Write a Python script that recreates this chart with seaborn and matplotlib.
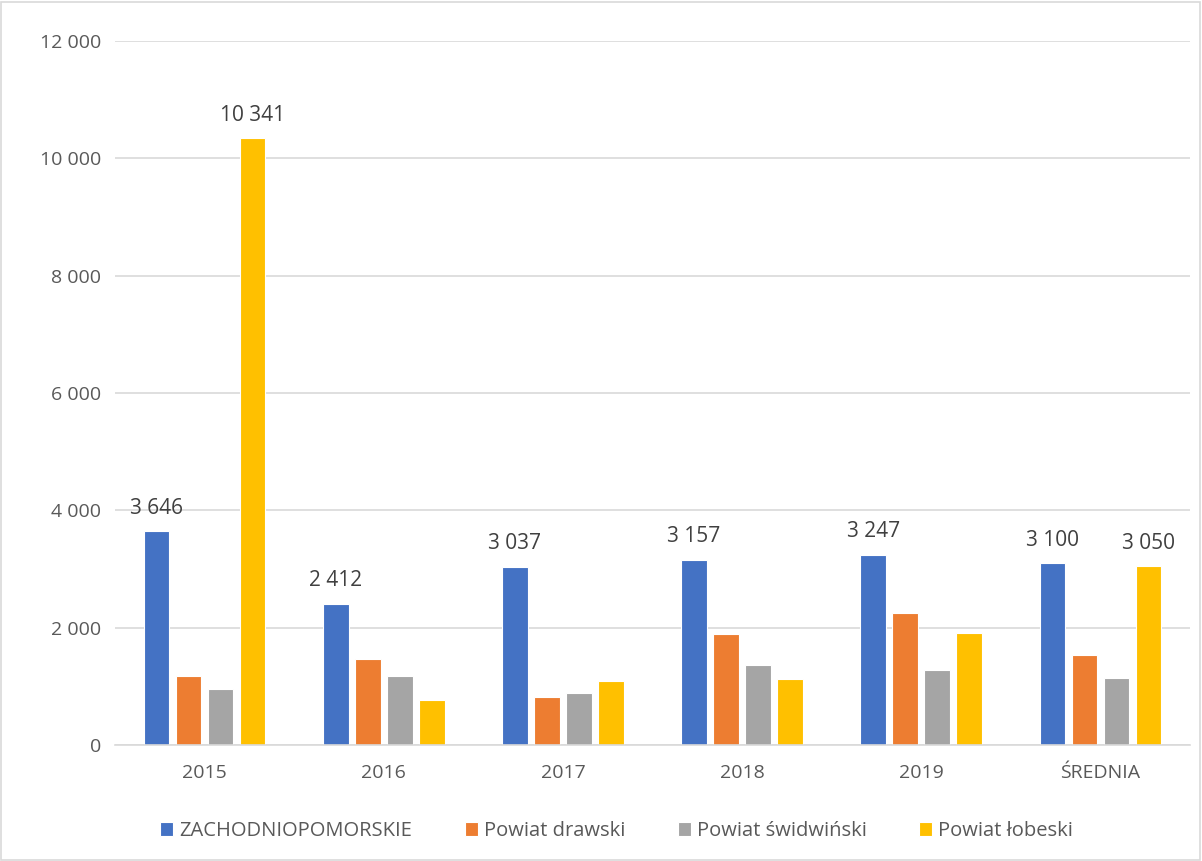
import seaborn as sns
import matplotlib.pyplot as plt
import pandas as pd
from matplotlib.patches import Rectangle
from matplotlib.ticker import FuncFormatter

# Dane
kategorie = ["2015", "2016", "2017", "2018", "2019", "ŚREDNIA"]
serie = ["ZACHODNIOPOMORSKIE", "Powiat drawski", "Powiat świdwiński", "Powiat łobeski"]
zachodniopomorskie = [3646, 2412, 3037, 3157, 3247, 3100]
drawski = [1182, 1460, 823, 1897, 2249, 1528]
swidwinski = [961, 1182, 880, 1369, 1283, 1136]
lobeski = [10341, 761, 1085, 1119, 1903, 3050]
kolory = ["#4472C4", "#ED7D31", "#A5A5A5", "#FFC000"]

df = pd.DataFrame({
    "kategoria": kategorie * 4,
    "seria": [s for s in serie for _ in kategorie],
    "wartosc": zachodniopomorskie + drawski + swidwinski + lobeski,
})

sns.set_style("white")
plt.rcParams["font.family"] = ["Open Sans", "DejaVu Sans"]

def fmt(v):
    return f"{int(round(v)):,}".replace(",", " ")

fig = plt.figure(figsize=(12.02, 8.61), dpi=100)
ax = fig.add_axes([0.0957, 0.1347, 0.8943, 0.8177])

sns.barplot(data=df, x="kategoria", y="wartosc", hue="seria", order=kategorie,
            hue_order=serie, palette=kolory, width=0.715, gap=0.2,
            edgecolor="white", linewidth=0.8, saturation=1, ax=ax, legend=True)

ax.set_ylim(0, 12000)
ax.set_yticks(range(0, 12001, 2000))
ax.yaxis.set_major_formatter(FuncFormatter(lambda v, p: fmt(v)))
ax.grid(axis="y", color="#D9D9D9", linewidth=1.2)
ax.set_axisbelow(True)
for s in ["top", "right", "left"]:
    ax.spines[s].set_visible(False)
ax.spines["bottom"].set_color("#D9D9D9")
ax.spines["bottom"].set_linewidth(1.2)
ax.tick_params(axis="both", length=0, colors="#595959", labelsize=14)
ax.tick_params(axis="y", pad=10)
ax.tick_params(axis="x", pad=14)
ax.set_xlabel("")
ax.set_ylabel("")

# Etykiety danych
ax.bar_label(ax.containers[0], labels=[fmt(v) for v in zachodniopomorskie],
             padding=9, fontsize=15, color="#404040")
ax.bar_label(ax.containers[3],
             labels=[fmt(v) if k in ("2015", "ŚREDNIA") else "" for k, v in zip(kategorie, lobeski)],
             padding=9, fontsize=15, color="#404040")

# Legenda
handles, labels = ax.get_legend_handles_labels()
ax.get_legend().remove()
fig.legend(handles, labels, loc="center", bbox_to_anchor=(0.513, 0.035), ncol=4,
           frameon=False, fontsize=14.5, labelcolor="#595959", handlelength=0.65,
           handleheight=0.65, handletextpad=0.3, columnspacing=2.6)

fig.patches.append(Rectangle((0.001, 0.001), 0.997, 0.997, transform=fig.transFigure,
                             fill=False, edgecolor="#D9D9D9", linewidth=1.2))

fig.savefig("out.png", dpi=100)
